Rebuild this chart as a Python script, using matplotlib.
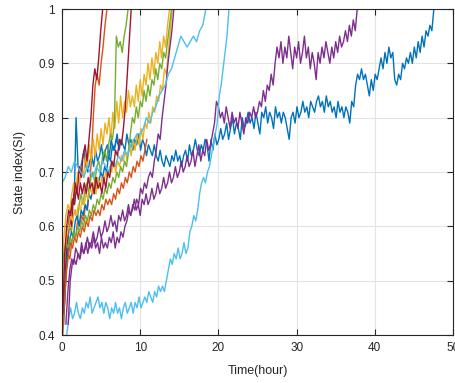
import numpy as np
import matplotlib.pyplot as plt

plt.rcParams['font.family'] = ['Liberation Sans', 'DejaVu Sans']

# MATLAB default colour order
colors = ['#0072BD', '#D95319', '#EDB120', '#7E2F8E', '#77AC30', '#4DBEEE', '#A2142F']

# each run: start time (hour), sampling step (hour), state index values
blue_long_t0, blue_long_dt = 0.3, 0.25
blue_long = [0.45, 0.52, 0.58, 0.62, 0.65, 0.64, 0.80, 0.71, 0.70, 0.72, 0.74, 0.71, 0.70, 0.72, 0.73, 0.71,
             0.74, 0.72, 0.73, 0.75, 0.72, 0.74, 0.75, 0.73, 0.76, 0.74, 0.75, 0.77, 0.74, 0.76, 0.75, 0.74,
             0.77, 0.75, 0.76, 0.74, 0.76, 0.75, 0.77, 0.74, 0.76, 0.75, 0.73, 0.75, 0.74, 0.73, 0.75, 0.73,
             0.72, 0.74, 0.72, 0.71, 0.73, 0.72, 0.71, 0.73, 0.72, 0.74, 0.72, 0.73, 0.71, 0.73, 0.74, 0.72,
             0.75, 0.73, 0.74, 0.76, 0.74, 0.73, 0.75, 0.74, 0.76, 0.75, 0.72, 0.76, 0.74, 0.77, 0.75, 0.76,
             0.78, 0.76, 0.77, 0.79, 0.76, 0.78, 0.80, 0.77, 0.79, 0.78, 0.76, 0.80, 0.78, 0.79, 0.81, 0.79,
             0.80, 0.78, 0.81, 0.79, 0.77, 0.81, 0.80, 0.82, 0.79, 0.81, 0.80, 0.78, 0.82, 0.80, 0.81, 0.79,
             0.81, 0.80, 0.78, 0.76, 0.80, 0.81, 0.79, 0.82, 0.80, 0.81, 0.83, 0.81, 0.82, 0.80, 0.83, 0.82,
             0.81, 0.83, 0.84, 0.82, 0.83, 0.81, 0.84, 0.82, 0.83, 0.81, 0.82, 0.80, 0.83, 0.81, 0.82, 0.80,
             0.82, 0.81, 0.79, 0.83, 0.82, 0.86, 0.88, 0.87, 0.89, 0.87, 0.88, 0.86, 0.84, 0.87, 0.85, 0.88,
             0.87, 0.89, 0.91, 0.89, 0.92, 0.90, 0.93, 0.91, 0.92, 0.87, 0.86, 0.88, 0.87, 0.90, 0.89, 0.91,
             0.90, 0.92, 0.90, 0.93, 0.91, 0.94, 0.92, 0.95, 0.93, 0.96, 0.95, 0.97, 0.96, 1.00]

orange_fast_t0, orange_fast_dt = 0.0, 0.25
orange_fast = [0.41, 0.47, 0.52, 0.55, 0.54, 0.57, 0.59, 0.58, 0.61, 0.60,
               0.62, 0.61, 0.64, 0.63, 0.67, 0.72, 0.80, 0.86, 0.88, 0.86,
               0.90, 0.93, 0.97, 1.00]

yellow_a_t0, yellow_a_dt = 0.0, 0.25
yellow_a = [0.50, 0.58, 0.62, 0.64, 0.63, 0.66, 0.68, 0.66, 0.70, 0.68,
            0.71, 0.69, 0.73, 0.71, 0.75, 0.72, 0.76, 0.73, 0.77, 0.74,
            0.78, 0.75, 0.79, 0.77, 0.80, 0.76, 0.81, 0.78, 0.83, 0.79,
            0.84, 0.80, 0.83, 0.81, 0.85, 0.82, 0.84, 0.82, 0.86, 0.83,
            0.87, 0.84, 0.88, 0.86, 0.90, 0.87, 0.91, 0.88, 0.92, 0.90,
            0.94, 0.91, 0.95, 0.93, 0.97, 1.00]

purple_long_t0, purple_long_dt = 0.5, 0.25
purple_long = [0.42, 0.48, 0.52, 0.54, 0.53, 0.56, 0.55, 0.54, 0.57, 0.55, 0.56, 0.58, 0.56, 0.57, 0.59, 0.57,
               0.58, 0.60, 0.58, 0.59, 0.61, 0.59, 0.60, 0.62, 0.60, 0.61, 0.59, 0.62, 0.61, 0.63, 0.61, 0.62,
               0.64, 0.62, 0.63, 0.65, 0.63, 0.64, 0.62, 0.65, 0.64, 0.66, 0.64, 0.65, 0.67, 0.65, 0.66, 0.68,
               0.66, 0.67, 0.69, 0.67, 0.68, 0.70, 0.68, 0.69, 0.71, 0.69, 0.70, 0.72, 0.70, 0.71, 0.73, 0.71,
               0.72, 0.74, 0.71, 0.73, 0.75, 0.72, 0.74, 0.73, 0.76, 0.74, 0.75, 0.77, 0.79, 0.83, 0.82, 0.80,
               0.81, 0.79, 0.82, 0.80, 0.78, 0.81, 0.79, 0.80, 0.78, 0.81, 0.79, 0.77, 0.80, 0.79, 0.81, 0.80,
               0.82, 0.80, 0.81, 0.83, 0.82, 0.85, 0.83, 0.86, 0.85, 0.88, 0.86, 0.90, 0.93, 0.91, 0.94, 0.90,
               0.93, 0.91, 0.95, 0.92, 0.89, 0.93, 0.91, 0.94, 0.90, 0.92, 0.95, 0.91, 0.93, 0.89, 0.92, 0.90,
               0.87, 0.92, 0.90, 0.93, 0.91, 0.94, 0.92, 0.90, 0.93, 0.91, 0.94, 0.92, 0.95, 0.93, 0.94, 0.96,
               0.94, 0.97, 0.95, 0.98, 0.96, 1.00]

green_fast_t0, green_fast_dt = 0.2, 0.25
green_fast = [0.50, 0.55, 0.58, 0.60, 0.59, 0.62, 0.63, 0.61, 0.64, 0.66,
              0.64, 0.67, 0.68, 0.66, 0.69, 0.70, 0.68, 0.71, 0.72, 0.70,
              0.73, 0.74, 0.72, 0.75, 0.77, 0.76, 0.79, 0.95, 0.93, 0.94,
              0.92, 0.95, 0.97, 1.00]

lblue_slow_t0, lblue_slow_dt = 0.6, 0.25
lblue_slow = [0.40, 0.43, 0.45, 0.43, 0.44, 0.46, 0.44, 0.43, 0.45, 0.44, 0.46, 0.45, 0.47, 0.44, 0.45, 0.46,
              0.47, 0.45, 0.46, 0.44, 0.46, 0.45, 0.43, 0.45, 0.44, 0.46, 0.44, 0.45, 0.43, 0.45, 0.46, 0.44,
              0.45, 0.46, 0.44, 0.46, 0.45, 0.47, 0.45, 0.46, 0.47, 0.46, 0.48, 0.47, 0.46, 0.48, 0.47, 0.49,
              0.48, 0.49, 0.48, 0.50, 0.52, 0.54, 0.53, 0.55, 0.54, 0.56, 0.54, 0.55, 0.57, 0.55, 0.56, 0.59,
              0.60, 0.62, 0.61, 0.63, 0.66, 0.68, 0.69, 0.68, 0.70, 0.71, 0.73, 0.75, 0.77, 0.79, 0.84, 0.86,
              0.89, 0.92, 0.95, 1.00]

red_fast_t0, red_fast_dt = 0.2, 0.25
red_fast = [0.44, 0.52, 0.58, 0.62, 0.60, 0.65, 0.68, 0.66, 0.71, 0.69,
            0.73, 0.75, 0.72, 0.76, 0.80, 0.86, 0.89, 0.87, 0.91, 0.96,
            1.00]

blue_short_t0, blue_short_dt = 0.2, 0.25
blue_short = [0.42, 0.50, 0.55, 0.57, 0.59, 0.58, 0.61, 0.62, 0.60, 0.63,
              0.62, 0.64, 0.63, 0.66, 0.65, 0.67, 0.66, 0.69, 0.68, 0.70,
              0.69, 0.71, 0.70, 0.73, 0.72, 0.75, 0.74, 0.76, 0.75]

orange_slow_t0, orange_slow_dt = 0.1, 0.25
orange_slow = [0.40, 0.47, 0.52, 0.55, 0.57, 0.56, 0.58, 0.57, 0.59, 0.58,
               0.60, 0.59, 0.61, 0.60, 0.62, 0.61, 0.63, 0.62, 0.63, 0.62,
               0.64, 0.63, 0.65, 0.64, 0.65, 0.64, 0.66, 0.65, 0.67, 0.66,
               0.68, 0.67, 0.69, 0.68, 0.70, 0.69, 0.71, 0.70, 0.72, 0.71,
               0.73, 0.72, 0.74, 0.76]

yellow_b_t0, yellow_b_dt = 0.1, 0.25
yellow_b = [0.47, 0.55, 0.58, 0.60, 0.62, 0.61, 0.63, 0.62, 0.64, 0.63,
            0.65, 0.64, 0.66, 0.65, 0.67, 0.66, 0.68, 0.66, 0.69, 0.67,
            0.69, 0.68, 0.70, 0.69, 0.71, 0.70, 0.72, 0.70, 0.72, 0.71,
            0.73, 0.72, 0.74, 0.72, 0.75, 0.73, 0.76, 0.74, 0.77, 0.75,
            0.78, 0.76, 0.79, 0.78, 0.81, 0.79, 0.82, 0.81, 0.84, 0.83,
            0.86, 0.85, 0.89, 0.88, 0.92, 0.96, 1.00]

purple_mid_t0, purple_mid_dt = 0.8, 0.25
purple_mid = [0.42, 0.50, 0.53, 0.54, 0.53, 0.55, 0.54, 0.56, 0.55, 0.57,
              0.55, 0.57, 0.56, 0.58, 0.56, 0.57, 0.55, 0.58, 0.56, 0.57,
              0.56, 0.58, 0.57, 0.59, 0.56, 0.58, 0.57, 0.59, 0.58, 0.60,
              0.61, 0.63, 0.62, 0.64, 0.63, 0.65, 0.64, 0.67, 0.66, 0.68,
              0.67, 0.69, 0.70, 0.69, 0.72, 0.74, 0.77, 0.76, 0.80, 0.83,
              0.86, 0.90, 0.93, 0.96, 1.00]

green_slow_t0, green_slow_dt = 0.0, 0.25
green_slow = [0.52, 0.55, 0.57, 0.56, 0.58, 0.57, 0.59, 0.58, 0.60, 0.59,
              0.61, 0.60, 0.62, 0.61, 0.63, 0.62, 0.64, 0.63, 0.65, 0.64,
              0.66, 0.65, 0.67, 0.66, 0.68, 0.67, 0.69, 0.68, 0.70, 0.69,
              0.71, 0.70, 0.72, 0.71, 0.74, 0.77, 0.80, 0.79, 0.82, 0.80,
              0.83, 0.82, 0.85, 0.83, 0.86, 0.84, 0.87, 0.86, 0.89, 0.87,
              0.90, 0.89, 0.92, 0.91, 0.94, 0.97, 1.00]

lblue_fast_t0, lblue_fast_dt = 0.0, 0.4
lblue_fast = [0.68, 0.69, 0.71, 0.70, 0.72, 0.71, 0.70, 0.69, 0.71, 0.70,
              0.69, 0.71, 0.70, 0.72, 0.71, 0.70, 0.72, 0.71, 0.73, 0.72,
              0.74, 0.73, 0.75, 0.76, 0.77, 0.77, 0.78, 0.80, 0.79, 0.81,
              0.82, 0.84, 0.85, 0.86, 0.88, 0.89, 0.91, 0.93, 0.95, 0.94,
              0.93, 0.94, 0.95, 0.94, 0.96, 0.97, 1.00]

red_slow_t0, red_slow_dt = 0.1, 0.25
red_slow = [0.44, 0.55, 0.60, 0.63, 0.62, 0.65, 0.64, 0.67, 0.65, 0.68,
            0.66, 0.68, 0.66, 0.69, 0.67, 0.68, 0.66, 0.69, 0.67, 0.68,
            0.66, 0.69, 0.67, 0.70, 0.69, 0.72, 0.71, 0.74, 0.73, 0.76,
            0.75, 0.78, 0.82, 0.88, 0.94, 1.00]

runs = [
    (blue_long_t0, blue_long_dt, blue_long),
    (orange_fast_t0, orange_fast_dt, orange_fast),
    (yellow_a_t0, yellow_a_dt, yellow_a),
    (purple_long_t0, purple_long_dt, purple_long),
    (green_fast_t0, green_fast_dt, green_fast),
    (lblue_slow_t0, lblue_slow_dt, lblue_slow),
    (red_fast_t0, red_fast_dt, red_fast),
    (blue_short_t0, blue_short_dt, blue_short),
    (orange_slow_t0, orange_slow_dt, orange_slow),
    (yellow_b_t0, yellow_b_dt, yellow_b),
    (purple_mid_t0, purple_mid_dt, purple_mid),
    (green_slow_t0, green_slow_dt, green_slow),
    (lblue_fast_t0, lblue_fast_dt, lblue_fast),
    (red_slow_t0, red_slow_dt, red_slow),
]

fig = plt.figure(figsize=(4.56, 3.83), dpi=100)
ax = fig.add_axes([62 / 456, 48 / 383, 391 / 456, 326 / 383])

for i, (t0, dt, vals) in enumerate(runs):
    t = t0 + dt * np.arange(len(vals))
    ax.plot(t, vals, color=colors[i % 7], linewidth=1.0)

ax.set_xlim(0, 50)
ax.set_ylim(0.4, 1)
ax.set_xticks([0, 10, 20, 30, 40, 50])
ax.set_yticks([0.4, 0.5, 0.6, 0.7, 0.8, 0.9, 1.0])
ax.set_yticklabels(['0.4', '0.5', '0.6', '0.7', '0.8', '0.9', '1'])
ax.grid(True, color='#e3e3e3', linewidth=0.8)
ax.set_axisbelow(True)
ax.tick_params(direction='in', top=True, right=True, length=4, width=0.8,
               labelsize=8.5, colors='#262626', pad=5)
for s in ax.spines.values():
    s.set_color('#262626')
    s.set_linewidth(0.8)

ax.set_xlabel('Time(hour)', fontsize=9, color='#262626', labelpad=8)
ax.set_ylabel('State index(SI)', fontsize=9, color='#262626', labelpad=9)

fig.savefig('out.png', dpi=100)
